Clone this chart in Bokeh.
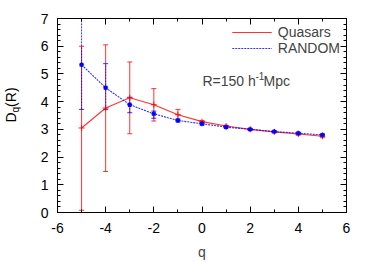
from bokeh.plotting import figure
from bokeh.layouts import row
from bokeh.models import (ColumnDataSource, Whisker, TeeHead, LinearAxis, FixedTicker,
                          Range1d, Label, Legend, LegendItem, Div, CustomJSTickFormatter)
from bokeh.embed import file_html
from bokeh.resources import INLINE

# ---- data ----
q = [-5, -4, -3, -2, -1, 0, 1, 2, 3, 4, 5]
qso = [3.05, 3.77, 4.14, 3.89, 3.53, 3.28, 3.12, 3.00, 2.91, 2.83, 2.75]
qso_lo = [0.08, 1.48, 2.84, 3.30, 3.35, 3.24, 3.09, 2.97, 2.88, 2.79, 2.70]
qso_hi = [6.00, 6.05, 5.43, 4.47, 3.72, 3.32, 3.15, 3.03, 2.94, 2.87, 2.80]
rnd = [5.33, 4.50, 3.89, 3.56, 3.32, 3.20, 3.08, 3.00, 2.92, 2.86, 2.80]
rnd_lo = [3.72, 3.72, 3.60, 3.40, 3.27, 3.16, 3.05, 2.97, 2.89, 2.83, 2.77]
rnd_hi = [7.00, 5.37, 4.16, 3.66, 3.37, 3.24, 3.11, 3.03, 2.95, 2.89, 2.83]
x_ticks = [-6, -4, -2, 0, 2, 4, 6]
x_tick_labels = ["-6", "-4", "-2", "0", "2", "4", "6"]
x_minor = [-5, -3, -1, 1, 3, 5]
y_ticks = [0, 1, 2, 3, 4, 5, 6, 7]
y_minor = [i / 5 for i in range(0, 36) if i % 5]
x_range = (-6, 6)
y_range = (0, 7)

FONT = "Liberation Sans"
RED = "#ff0000"
BLUE = "#0000ff"

p = figure(width=354, height=262, output_backend="svg", toolbar_location=None,
           x_range=Range1d(*x_range), y_range=Range1d(*y_range),
           min_border_left=37, min_border_right=28, min_border_top=18, min_border_bottom=50,
           margin=0)
p.grid.visible = False
p.outline_line_color = "black"
p.outline_line_width = 1
p.background_fill_color = "white"

def style_axis(ax, labels=True):
    ax.major_tick_in = 6
    ax.major_tick_out = 0
    ax.minor_tick_in = 3
    ax.minor_tick_out = 0
    ax.axis_line_color = "black"
    ax.major_tick_line_color = "black"
    ax.minor_tick_line_color = "black"
    ax.major_label_text_font = FONT
    ax.major_label_text_font_size = "14px"
    ax.major_label_text_color = "black"
    ax.major_label_standoff = 8
    if not labels:
        ax.formatter = CustomJSTickFormatter(code="return ''")
        ax.major_label_standoff = 0

p.xaxis.ticker = FixedTicker(ticks=x_ticks, minor_ticks=x_minor)
p.yaxis.ticker = FixedTicker(ticks=y_ticks, minor_ticks=y_minor)
for ax in p.xaxis + p.yaxis:
    style_axis(ax)
p.xaxis.major_label_overrides = dict(zip(x_ticks, x_tick_labels))
p.yaxis.major_label_standoff = 9
p.xaxis.major_label_standoff = 10
p.xaxis.axis_label = "q"
p.xaxis.axis_label_text_font = FONT
p.xaxis.axis_label_text_font_size = "14px"
p.xaxis.axis_label_text_font_style = "normal"
p.xaxis.axis_label_standoff = 8

top = LinearAxis(ticker=FixedTicker(ticks=x_ticks, minor_ticks=x_minor))
right = LinearAxis(ticker=FixedTicker(ticks=y_ticks, minor_ticks=y_minor))
style_axis(top, labels=False)
style_axis(right, labels=False)
p.add_layout(top, "above")
p.add_layout(right, "right")

src_q = ColumnDataSource(dict(x=q, y=qso, lo=qso_lo, hi=qso_hi))
src_r = ColumnDataSource(dict(x=q, y=rnd, lo=rnd_lo, hi=rnd_hi))

p.add_layout(Whisker(source=src_q, base="x", upper="hi", lower="lo", dimension="height",
                     line_color=RED, line_width=1, line_alpha=0.8,
                     upper_head=TeeHead(size=5, line_color=RED, line_alpha=0.8),
                     lower_head=TeeHead(size=5, line_color=RED, line_alpha=0.8)))
p.add_layout(Whisker(source=src_r, base="x", upper="hi", lower="lo", dimension="height",
                     line_color=BLUE, line_width=1, line_dash="2 1", line_alpha=0.8,
                     upper_head=TeeHead(size=5, line_color=BLUE, line_alpha=0.8),
                     lower_head=TeeHead(size=5, line_color=BLUE, line_alpha=0.8)))

lq = p.line("x", "y", source=src_q, line_color=RED, line_width=1.1, line_alpha=0.8)
p.scatter("x", "y", source=src_q, marker="cross", size=6, line_color=RED, line_alpha=0.85)
lr = p.line("x", "y", source=src_r, line_color=BLUE, line_width=1.1, line_dash="2 1", line_alpha=0.8)
p.scatter("x", "y", source=src_r, marker="asterisk", size=5, line_color=BLUE, line_width=1.2)

legend = Legend(items=[LegendItem(label="Quasars", renderers=[lq]),
                       LegendItem(label="RANDOM", renderers=[lr])],
                location="top_right", background_fill_alpha=0, border_line_alpha=0,
                label_text_font=FONT, label_text_font_size="14px", label_height=12,
                glyph_width=40, glyph_height=12, spacing=0, padding=0, margin=6,
                label_standoff=6)
p.add_layout(legend)

# annotation text  R=150 h^-1 Mpc
ann_x, ann_y = 0.02, 4.76
p.add_layout(Label(x=ann_x, y=ann_y, text="R=150 h", text_font=FONT, text_font_size="14px",
                   text_baseline="alphabetic"))
p.add_layout(Label(x=ann_x, y=ann_y, x_offset=53, y_offset=5, text="-1", text_font=FONT,
                   text_font_size="10px", text_baseline="alphabetic"))
p.add_layout(Label(x=ann_x, y=ann_y, x_offset=61, text="Mpc", text_font=FONT,
                   text_font_size="14px", text_baseline="alphabetic"))

# y axis label D_q(R), rotated, in a narrow column left of the plot
ylab = Div(width=20, height=262, margin=0, text=(
    '<div style="position:absolute; left:12px; top:105px; '
    'transform: translate(-50%, -50%) rotate(-90deg); white-space: nowrap; '
    'font-family: \'Liberation Sans\'; font-size: 14px; color: black; line-height: 1;">'
    'D<sub style="font-size: 10px; vertical-align: -3px;">q</sub>(R)</div>'),
    styles={"position": "relative"})

layout = row(ylab, p, spacing=0)
open("out.html", "w").write(file_html(layout, INLINE))
